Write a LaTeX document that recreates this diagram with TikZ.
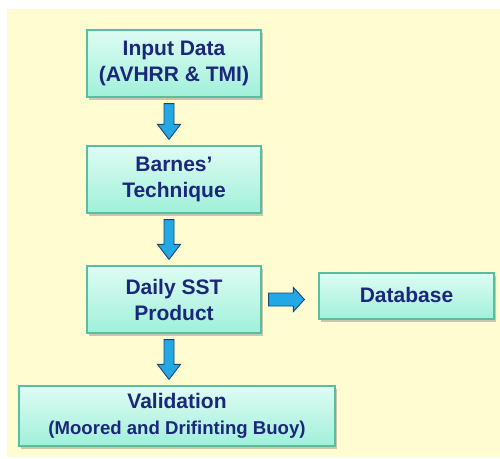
\documentclass[tikz,border=0pt]{standalone}
\usepackage{fontspec}
\setmainfont{Liberation Sans}
\usetikzlibrary{calc,shadows}
\definecolor{bgyellow}{RGB}{255,252,210}
\definecolor{mintTop}{RGB}{222,252,243}
\definecolor{mintBot}{RGB}{160,240,218}
\definecolor{boxline}{RGB}{88,190,160}
\definecolor{txtblue}{RGB}{28,38,122}
\definecolor{arrfill}{RGB}{34,168,228}
\definecolor{arrline}{RGB}{30,70,115}
\tikzset{
  flowbox/.style={rectangle, draw=boxline, line width=1.2pt,
    top color=mintTop, bottom color=mintBot,
    drop shadow={shadow xshift=2pt, shadow yshift=-2.5pt, opacity=0.35, fill=black!60},
    align=center, text=txtblue, inner sep=0pt,
    font=\fontsize{21}{26}\selectfont\bfseries},
  blockarrow/.style={fill=arrfill, draw=arrline, line width=0.9pt, line join=miter}
}
\begin{document}
\begin{tikzpicture}[x=1pt,y=-1pt]
\useasboundingbox (0,0) rectangle (500,458);
\fill[white] (0,0) rectangle (500,458);
\fill[bgyellow] (7,9) rectangle (500,457);

\node[flowbox, minimum width=174pt, minimum height=67pt] (a) at (174,63.5)
  {Input Data\\(AVHRR \& TMI)};
\node[flowbox, minimum width=174pt, minimum height=67pt] (b) at (174,179.5)
  {Barnes’\\Technique};
\node[flowbox, minimum width=174pt, minimum height=67pt] (c) at (174,299.5)
  {Daily SST\\Product};
\node[flowbox, minimum width=175pt, minimum height=46pt] (d) at (406.5,296)
  {\raisebox{3pt}{Database}};
\node[flowbox, minimum width=316pt, minimum height=60pt] (e) at (177,416)
  {Validation\\{\fontsize{18.6}{24}\selectfont (Moored and Drifinting Buoy)}};

% down arrows
\foreach \u/\v in {a/b, b/c, c/e}{
  \coordinate (s) at ($(\u.south)+(-5,6)$);
  \coordinate (t) at ($(\u.south |- \v.north)+(-5,-6)$);
  \draw[blockarrow] ($(s)+(-5,0)$) -- ($(s)+(5,0)$) -- ($(t)+(5,-15)$)
    -- ($(t)+(11.5,-15)$) -- (t) -- ($(t)+(-11.5,-15)$) -- ($(t)+(-5,-15)$) -- cycle;
}
% right arrow
\coordinate (rs) at ($(c.east)+(7,0)$);
\coordinate (rt) at ($(c.east -| d.west)+(-14,0)$);
\draw[blockarrow] ($(rs)+(0,-6.5)$) -- ($(rt)+(-11,-6.5)$) -- ($(rt)+(-11,-12)$)
  -- (rt) -- ($(rt)+(-11,12)$) -- ($(rt)+(-11,6.5)$) -- ($(rs)+(0,6.5)$) -- cycle;
\end{tikzpicture}
\end{document}
